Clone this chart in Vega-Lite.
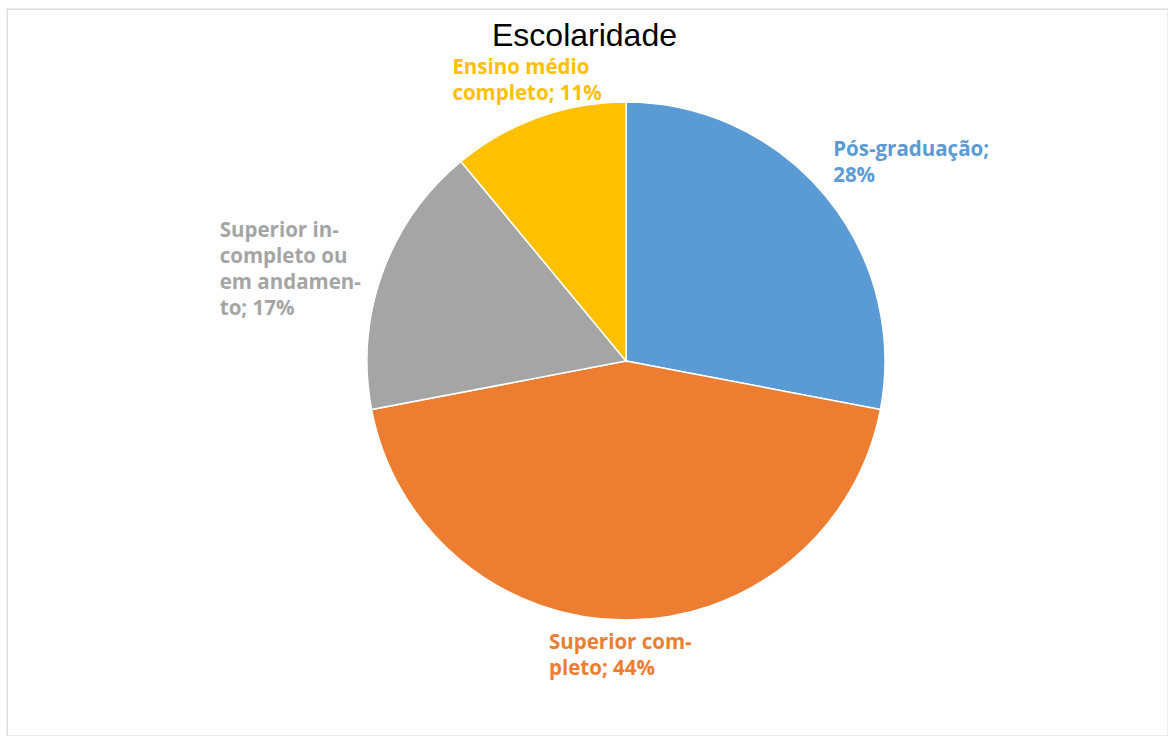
{
  "$schema": "https://vega.github.io/schema/vega-lite/v6.json",
  "autosize": "none",
  "width": 1161,
  "height": 727,
  "padding": {"left": 7, "top": 9, "right": 0, "bottom": 0},
  "background": "white",
  "view": {"stroke": "#d9d9d9", "strokeWidth": 1.3},
  "title": {
    "text": "Escolaridade",
    "orient": "top",
    "anchor": "middle",
    "frame": "group",
    "offset": -44,
    "dx": -3,
    "font": "Liberation Sans",
    "fontSize": 32,
    "fontWeight": "normal",
    "color": "#000000"
  },
  "data": {
    "values": [
      {"categoria": "Pós-graduação", "ordem": 1, "pct": 28, "rotulo": "Pós-graduação;\n28%"},
      {"categoria": "Superior completo", "ordem": 2, "pct": 44, "rotulo": "Superior com-\npleto; 44%"},
      {"categoria": "Superior incompleto ou em andamento", "ordem": 3, "pct": 17, "rotulo": "Superior in-\ncompleto ou\nem andamen-\nto; 17%"},
      {"categoria": "Ensino médio completo", "ordem": 4, "pct": 11, "rotulo": "Ensino médio\ncompleto; 11%"}
    ]
  },
  "encoding": {
    "theta": {"field": "pct", "type": "quantitative", "stack": true},
    "order": {"field": "ordem", "type": "quantitative"},
    "color": {
      "field": "categoria",
      "type": "nominal",
      "legend": null,
      "scale": {
        "domain": ["Pós-graduação", "Superior completo", "Superior incompleto ou em andamento", "Ensino médio completo"],
        "range": ["#5B9BD5", "#ED7D31", "#A5A5A5", "#FFC000"]
      }
    }
  },
  "layer": [
    {
      "mark": {"type": "arc", "outerRadius": 259, "stroke": "white", "strokeWidth": 1.5, "xOffset": 38.5, "yOffset": -11.5}
    },
    {
      "mark": {"type": "text", "radius": 300, "align": "left", "baseline": "middle", "lineBreak": "\n", "lineHeight": 26, "font": "Open Sans", "fontSize": 20.5, "fontWeight": "bold", "xOffset": 38.5, "yOffset": -11.5, "dx": -24, "dy": -19.5},
      "encoding": {"text": {"condition": {"test": "datum.categoria === 'Pós-graduação'", "field": "rotulo"}, "value": ""}}
    },
    {
      "mark": {"type": "text", "radius": 300, "align": "left", "baseline": "middle", "lineBreak": "\n", "lineHeight": 26, "font": "Open Sans", "fontSize": 20.5, "fontWeight": "bold", "xOffset": 38.5, "yOffset": -11.5, "dx": -77, "dy": -18.5},
      "encoding": {"text": {"condition": {"test": "datum.categoria === 'Superior completo'", "field": "rotulo"}, "value": ""}}
    },
    {
      "mark": {"type": "text", "radius": 300, "align": "left", "baseline": "middle", "lineBreak": "\n", "lineHeight": 26, "font": "Open Sans", "fontSize": 20.5, "fontWeight": "bold", "xOffset": 38.5, "yOffset": -11.5, "dx": -124, "dy": -28.5},
      "encoding": {"text": {"condition": {"test": "datum.categoria === 'Superior incompleto ou em andamento'", "field": "rotulo"}, "value": ""}}
    },
    {
      "mark": {"type": "text", "radius": 300, "align": "left", "baseline": "middle", "lineBreak": "\n", "lineHeight": 26, "font": "Open Sans", "fontSize": 20.5, "fontWeight": "bold", "xOffset": 38.5, "yOffset": -11.5, "dx": -72, "dy": -10.5},
      "encoding": {"text": {"condition": {"test": "datum.categoria === 'Ensino médio completo'", "field": "rotulo"}, "value": ""}}
    }
  ]
}
